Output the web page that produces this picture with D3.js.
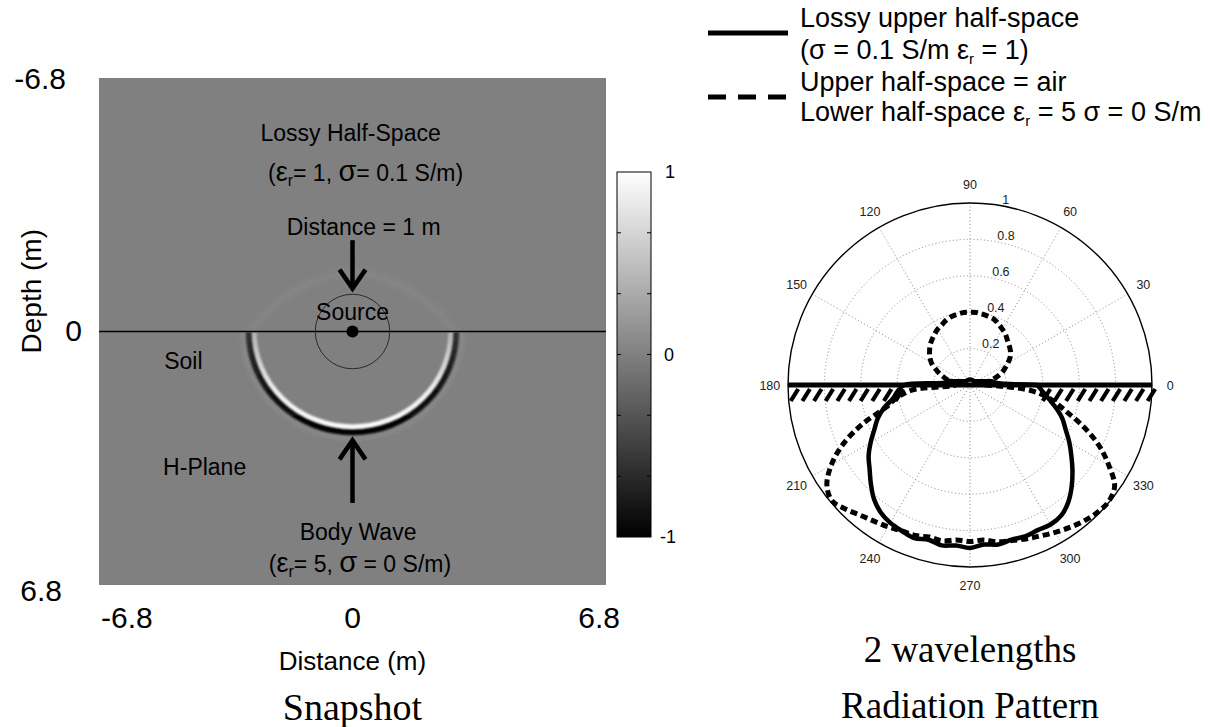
<!DOCTYPE html>
<html>
<head>
<meta charset="utf-8">
<script src="https://cdn.jsdelivr.net/npm/d3@7"></script>
<style>
  body { margin: 0; background: #ffffff; }
  svg { display: block; }
  text { font-family: "Liberation Sans", Arial, Helvetica, sans-serif; fill: #000; }
  .serif { font-family: "Liberation Serif", "Times New Roman", serif; }
</style>
</head>
<body>
<svg id="fig" width="1210" height="727"></svg>
<script>
// ---------------- data ----------------
// Snapshot panel (metres)
const snapExtent = [-6.8, 6.8];
const snapXTicks = [-6.8, 0, 6.8];
const snapXTickLabels = ["-6.8", "0", "6.8"];
const snapYTicks = [-6.8, 0, 6.8];
const snapYTickLabels = ["-6.8", "0", "6.8"];
const sourceDistance = 1;              // circle of radius 1 m round the source
const bodyWaveRadius = [2.78, 2.70];   // horizontal / vertical radius of the wavefront (m)

// Colour bar
const colorbarDomain = [-1, 1];
const colorbarTicks = [-1, -0.667, -0.333, 0, 0.333, 0.667, 1];
const colorbarLabelValues = [1, 0, -1];
const colorbarLabels = ["1", "0", "-1"];

// Radiation pattern (angle in degrees, normalised amplitude)
const polarAngles = [0, 5, 10, 15, 20, 25, 30, 35, 40, 45, 50, 55, 60, 65, 70, 75, 80, 85, 90,
  95, 100, 105, 110, 115, 120, 125, 130, 135, 140, 145, 150, 155, 160, 165, 170, 175, 180,
  185, 190, 195, 200, 205, 210, 215, 220, 225, 230, 235, 240, 245, 250, 255, 260, 265, 270,
  275, 280, 285, 290, 295, 300, 305, 310, 315, 320, 325, 330, 335, 340, 345, 350, 355, 360];

const lossyPattern = [0.37, 0.14, 0.12, 0.08, 0.06, 0.05, 0.04, 0.035, 0.03, 0.03, 0.03, 0.03, 0.03,
  0.03, 0.03, 0.03, 0.03, 0.03, 0.03, 0.03, 0.03, 0.03, 0.03, 0.03, 0.03, 0.03, 0.03, 0.03, 0.03,
  0.035, 0.04, 0.05, 0.06, 0.08, 0.12, 0.14, 0.36,
  0.40, 0.43, 0.49, 0.54, 0.58, 0.63, 0.68, 0.72, 0.77, 0.82, 0.855, 0.875, 0.885, 0.895, 0.88,
  0.895, 0.885, 0.895, 0.88, 0.89, 0.88, 0.885, 0.88, 0.885, 0.875, 0.84, 0.79, 0.735, 0.68,
  0.63, 0.58, 0.54, 0.49, 0.44, 0.40, 0.37];

const airPattern = [0.08, 0.09, 0.11, 0.14, 0.18, 0.21, 0.24, 0.27, 0.29, 0.305, 0.32, 0.34, 0.355,
  0.37, 0.385, 0.39, 0.395, 0.40, 0.40, 0.40, 0.395, 0.39, 0.38, 0.365, 0.355, 0.34, 0.325, 0.31,
  0.29, 0.27, 0.245, 0.21, 0.175, 0.14, 0.11, 0.09, 0.08,
  0.32, 0.41, 0.48, 0.63, 0.77, 0.88, 0.96, 0.99, 0.965, 0.935, 0.915, 0.90, 0.885, 0.88, 0.865,
  0.87, 0.855, 0.86, 0.855, 0.875, 0.885, 0.90, 0.915, 0.935, 0.955, 0.975, 0.99, 0.995, 0.97,
  0.88, 0.78, 0.66, 0.54, 0.45, 0.33, 0.08];

const polarRings = [0.2, 0.4, 0.6, 0.8, 1];
const polarRingLabels = ["0.2", "0.4", "0.6", "0.8", "1"];
const polarSpokes = [0, 30, 60, 90, 120, 150];
const polarAngleLabels = [0, 30, 60, 90, 120, 150, 180, 210, 240, 270, 300, 330];

// ---------------- drawing ----------------
const svg = d3.select("#fig");
const defs = svg.append("defs");

defs.append("filter").attr("id", "soft").attr("x", "-10%").attr("y", "-10%").attr("width", "120%").attr("height", "120%")
  .append("feGaussianBlur").attr("stdDeviation", 0.9);
defs.append("filter").attr("id", "haze").attr("x", "-20%").attr("y", "-20%").attr("width", "140%").attr("height", "140%")
  .append("feGaussianBlur").attr("stdDeviation", 2.5);

// ===== Snapshot =====
const xS = d3.scaleLinear().domain(snapExtent).range([99, 606]);
const yS = d3.scaleLinear().domain(snapExtent).range([78, 585]);
const grey = d3.scaleLinear().domain(colorbarDomain).range(["#000000", "#ffffff"]);
const snap = svg.append("g");

snap.append("rect")
  .attr("x", xS(-6.8)).attr("y", yS(-6.8))
  .attr("width", xS(6.8) - xS(-6.8)).attr("height", yS(6.8) - yS(-6.8))
  .attr("fill", grey(0));

// faint head-wave dome above the interface
const dome = [[-2.8, 0.05], [-2.3, -0.6], [-1.2, -1.35], [0, -1.7], [1.2, -1.35], [2.3, -0.6], [2.8, 0.05]];
snap.append("path")
  .attr("d", d3.line().x(d => xS(d[0])).y(d => yS(d[1])).curve(d3.curveBasis)(dome))
  .attr("fill", "none").attr("stroke", grey(0.1)).attr("stroke-width", 7)
  .attr("filter", "url(#haze)").attr("opacity", 0.5);

// body-wave front in the lower half-space
defs.append("clipPath").attr("id", "lowerHalf")
  .append("rect").attr("x", xS(-6.8)).attr("y", yS(0) + 1)
  .attr("width", xS(6.8) - xS(-6.8)).attr("height", yS(6.8) - yS(0) - 1);

const rx = xS(bodyWaveRadius[0]) - xS(0);
const ry = yS(bodyWaveRadius[1]) - yS(0);

const darkFade = defs.append("linearGradient").attr("id", "darkFade")
  .attr("gradientUnits", "userSpaceOnUse").attr("x1", 0).attr("x2", 0)
  .attr("y1", yS(0)).attr("y2", yS(0) + ry);
darkFade.append("stop").attr("offset", 0).attr("stop-color", grey(-0.6));
darkFade.append("stop").attr("offset", 0.55).attr("stop-color", grey(-0.85));
darkFade.append("stop").attr("offset", 1).attr("stop-color", grey(-1));

const lightFade = defs.append("linearGradient").attr("id", "lightFade")
  .attr("gradientUnits", "userSpaceOnUse").attr("x1", 0).attr("x2", 0)
  .attr("y1", yS(0)).attr("y2", yS(0) + ry);
lightFade.append("stop").attr("offset", 0).attr("stop-color", grey(0.4));
lightFade.append("stop").attr("offset", 0.6).attr("stop-color", grey(0.9));
lightFade.append("stop").attr("offset", 1).attr("stop-color", grey(1));

const wave = snap.append("g").attr("clip-path", "url(#lowerHalf)");
wave.append("ellipse").attr("cx", xS(0)).attr("cy", yS(0)).attr("rx", rx + 5.5).attr("ry", ry + 5.5)
  .attr("fill", "none").attr("stroke", grey(0.25)).attr("stroke-width", 4).attr("opacity", 0.45)
  .attr("filter", "url(#haze)");
wave.append("ellipse").attr("cx", xS(0)).attr("cy", yS(0)).attr("rx", rx).attr("ry", ry)
  .attr("fill", "none").attr("stroke", "url(#darkFade)").attr("stroke-width", 6)
  .attr("filter", "url(#soft)");
wave.append("ellipse").attr("cx", xS(0)).attr("cy", yS(0)).attr("rx", rx - 5.5).attr("ry", ry - 5.5)
  .attr("fill", "none").attr("stroke", "url(#lightFade)").attr("stroke-width", 4.5)
  .attr("filter", "url(#soft)");

// interface line, distance circle and source
snap.append("line")
  .attr("x1", xS(-6.8)).attr("x2", xS(6.8)).attr("y1", yS(0)).attr("y2", yS(0))
  .attr("stroke", "#000").attr("stroke-width", 1.6);
snap.append("ellipse")
  .attr("cx", xS(0)).attr("cy", yS(0))
  .attr("rx", xS(sourceDistance) - xS(0)).attr("ry", yS(sourceDistance) - yS(0))
  .attr("fill", "none").attr("stroke", "#2a2a2a").attr("stroke-width", 1);
snap.append("circle").attr("cx", xS(0)).attr("cy", yS(0)).attr("r", 6).attr("fill", "#000");

// arrows
function arrow(fromDepth, tipDepth) {
  const dir = Math.sign(tipDepth - fromDepth);
  const tipY = yS(tipDepth);
  snap.append("line").attr("x1", xS(0)).attr("x2", xS(0))
    .attr("y1", yS(fromDepth)).attr("y2", tipY - dir * 2)
    .attr("stroke", "#000").attr("stroke-width", 4.5);
  snap.append("path")
    .attr("d", `M${xS(0) - 13},${tipY - dir * 19} L${xS(0)},${tipY} L${xS(0) + 13},${tipY - dir * 19}`)
    .attr("fill", "none").attr("stroke", "#000").attr("stroke-width", 4.5)
    .attr("stroke-linejoin", "miter").attr("stroke-miterlimit", 6);
}
arrow(-2.45, -1.15);
arrow(4.6, 2.92);

// annotations
const ann = snap.append("g").attr("font-size", 23);
ann.append("text").attr("x", xS(-0.05)).attr("y", yS(-5.1)).attr("text-anchor", "middle").text("Lossy Half-Space");
const t1 = ann.append("text").attr("x", xS(0.35)).attr("y", yS(-4.05)).attr("text-anchor", "middle");
t1.append("tspan").text("(");
t1.append("tspan").attr("font-size", 27).text("ε");
t1.append("tspan").attr("font-size", 16).attr("dy", 5).text("r");
t1.append("tspan").attr("dy", -5).text("= 1,  ");
t1.append("tspan").attr("font-size", 29).text("σ");
t1.append("tspan").text("= 0.1 S/m)");
ann.append("text").attr("x", xS(0.3)).attr("y", yS(-2.6)).attr("text-anchor", "middle").text("Distance = 1 m");
ann.append("text").attr("x", xS(0)).attr("y", yS(-0.3)).attr("text-anchor", "middle").text("Source");
ann.append("text").attr("x", xS(-5.05)).attr("y", yS(1.0)).text("Soil");
ann.append("text").attr("x", xS(-5.08)).attr("y", yS(3.85)).text("H-Plane");
ann.append("text").attr("x", xS(0.15)).attr("y", yS(5.6)).attr("text-anchor", "middle").text("Body Wave");
const t2 = ann.append("text").attr("x", xS(0.2)).attr("y", yS(6.45)).attr("text-anchor", "middle");
t2.append("tspan").text("(");
t2.append("tspan").attr("font-size", 27).text("ε");
t2.append("tspan").attr("font-size", 16).attr("dy", 5).text("r");
t2.append("tspan").attr("dy", -5).text("= 5, ");
t2.append("tspan").attr("font-size", 29).text("σ");
t2.append("tspan").text(" = 0 S/m)");

// axes text
const tickFont = 30;
snap.selectAll(".xt").data(snapXTicks).join("text").attr("class", "xt")
  .attr("x", (d, i) => xS(d) + [2, 0, 14][i])
  .attr("y", yS(6.8) + 43)
  .attr("text-anchor", (d, i) => ["start", "middle", "end"][i])
  .attr("font-size", tickFont)
  .text((d, i) => snapXTickLabels[i]);
snap.selectAll(".yt").data(snapYTicks).join("text").attr("class", "yt")
  .attr("x", (d, i) => [66, 82, 62][i])
  .attr("y", (d, i) => yS(d) + [11, 9, 16][i])
  .attr("text-anchor", "end")
  .attr("font-size", tickFont)
  .text((d, i) => snapYTickLabels[i]);
snap.append("text").attr("x", xS(0)).attr("y", 670).attr("text-anchor", "middle")
  .attr("font-size", 26).text("Distance (m)");
snap.append("text").attr("transform", `translate(41,${yS(-1.0) - 3}) rotate(-90)`)
  .attr("text-anchor", "middle").attr("font-size", 28).text("Depth (m)");
snap.append("text").attr("class", "serif").attr("x", xS(0)).attr("y", 720)
  .attr("text-anchor", "middle").attr("font-size", 38).text("Snapshot");

// ===== Colour bar =====
const cbX = 617, cbW = 34;
const cbY = d3.scaleLinear().domain(colorbarDomain).range([537, 172]);
const cbGrad = defs.append("linearGradient").attr("id", "cbGrad")
  .attr("x1", 0).attr("x2", 0).attr("y1", 1).attr("y2", 0);
cbGrad.append("stop").attr("offset", 0).attr("stop-color", grey(-1));
cbGrad.append("stop").attr("offset", 1).attr("stop-color", grey(1));
const cb = svg.append("g");
cb.append("rect").attr("x", cbX).attr("y", cbY(1)).attr("width", cbW).attr("height", cbY(-1) - cbY(1))
  .attr("fill", "url(#cbGrad)").attr("stroke", "#000").attr("stroke-width", 1);
const innerTicks = colorbarTicks.filter(d => d > -1 && d < 1);
cb.selectAll(".cl").data(innerTicks).join("line").attr("class", "cl")
  .attr("x1", cbX).attr("x2", cbX + 4).attr("y1", d => cbY(d)).attr("y2", d => cbY(d))
  .attr("stroke", "#000").attr("stroke-width", 1);
cb.selectAll(".cr").data(innerTicks).join("line").attr("class", "cr")
  .attr("x1", cbX + cbW - 4).attr("x2", cbX + cbW).attr("y1", d => cbY(d)).attr("y2", d => cbY(d))
  .attr("stroke", "#000").attr("stroke-width", 1);
cb.selectAll(".cbt").data(colorbarLabelValues).join("text").attr("class", "cbt")
  .attr("x", (d, i) => [665, 664, 660][i])
  .attr("y", d => cbY(d) + 6)
  .attr("font-size", 18)
  .text((d, i) => colorbarLabels[i]);

// ===== Radiation pattern =====
const pc = { x: 970, y: 385 };
const rS = d3.scaleLinear().domain([0, 1]).range([0, 182]);
const rad = d => d * Math.PI / 180;
const polar = svg.append("g").attr("transform", `translate(${pc.x},${pc.y})`);

// grid
polar.selectAll(".ring").data(polarRings.slice(0, -1)).join("circle").attr("class", "ring")
  .attr("r", d => rS(d)).attr("fill", "none")
  .attr("stroke", "#7a7a7a").attr("stroke-width", 0.9).attr("stroke-dasharray", "1,2.5");
polar.selectAll(".spoke").data(polarSpokes).join("line").attr("class", "spoke")
  .attr("x1", d => rS(1) * Math.cos(rad(d))).attr("y1", d => -rS(1) * Math.sin(rad(d)))
  .attr("x2", d => -rS(1) * Math.cos(rad(d))).attr("y2", d => rS(1) * Math.sin(rad(d)))
  .attr("stroke", "#7a7a7a").attr("stroke-width", 0.9).attr("stroke-dasharray", "1,2.5");
polar.append("circle").attr("r", rS(1)).attr("fill", "none").attr("stroke", "#000").attr("stroke-width", 1.4);

// ring labels (just right of the 82 degree direction)
polar.selectAll(".rl").data(polarRings).join("text").attr("class", "rl")
  .attr("x", d => rS(d) * Math.cos(rad(82)) + 7)
  .attr("y", d => -rS(d) * Math.sin(rad(82)) - 1)
  .attr("font-size", 12.5).style("fill", "#222")
  .text((d, i) => polarRingLabels[i]);
// angle labels
polar.selectAll(".al").data(polarAngleLabels).join("text").attr("class", "al")
  .attr("x", d => 1.1 * rS(1) * Math.cos(rad(d)))
  .attr("y", d => -1.1 * rS(1) * Math.sin(rad(d)) + 4.5)
  .attr("text-anchor", "middle").attr("font-size", 12.5).style("fill", "#222")
  .text(d => d);

// patterns
const radial = d3.lineRadial()
  .angle(d => Math.PI / 2 - rad(d[0]))
  .radius(d => rS(d[1]))
  .curve(d3.curveCatmullRom.alpha(0.5));
const lossyPts = polarAngles.map((a, i) => [a, lossyPattern[i]]);
const airPts = polarAngles.map((a, i) => [a, airPattern[i]]);

polar.append("path").attr("d", radial(airPts))
  .attr("fill", "none").attr("stroke", "#000").attr("stroke-width", 5)
  .attr("stroke-dasharray", "7,4");
polar.append("path").attr("d", radial(lossyPts))
  .attr("fill", "none").attr("stroke", "#000").attr("stroke-width", 4.5)
  .attr("stroke-linejoin", "round");

// ground surface with hatching
polar.append("line").attr("x1", -rS(1)).attr("x2", rS(1)).attr("y1", 0).attr("y2", 0)
  .attr("stroke", "#000").attr("stroke-width", 5);
const gap = lossyPattern[polarAngles.indexOf(180)] + 0.01;
const hatchX = d3.range(-0.985, -gap, 0.064).concat(d3.range(gap + 0.03, 0.99, 0.064));
polar.selectAll(".hatch").data(hatchX).join("line").attr("class", "hatch")
  .attr("x1", d => rS(d)).attr("y1", 16)
  .attr("x2", d => rS(d) + 7.5).attr("y2", 4)
  .attr("stroke", "#000").attr("stroke-width", 4.2);

// legend
const lg = svg.append("g");
lg.append("line").attr("x1", 708).attr("x2", 788).attr("y1", 33).attr("y2", 33)
  .attr("stroke", "#000").attr("stroke-width", 5);
lg.append("line").attr("x1", 708).attr("x2", 788).attr("y1", 97).attr("y2", 97)
  .attr("stroke", "#000").attr("stroke-width", 5).attr("stroke-dasharray", "18,12");
const lgFont = 27;
lg.append("text").attr("x", 800).attr("y", 27).attr("font-size", lgFont).text("Lossy upper half-space");
const l2 = lg.append("text").attr("x", 800).attr("y", 59).attr("font-size", lgFont);
l2.append("tspan").text("(σ = 0.1 S/m ε");
l2.append("tspan").attr("font-size", 15).attr("dy", 5).text("r");
l2.append("tspan").attr("dy", -5).text(" = 1)");
lg.append("text").attr("x", 800).attr("y", 91).attr("font-size", lgFont).text("Upper half-space = air");
const l4 = lg.append("text").attr("x", 800).attr("y", 121).attr("font-size", lgFont);
l4.append("tspan").text("Lower half-space ε");
l4.append("tspan").attr("font-size", 15).attr("dy", 5).text("r");
l4.append("tspan").attr("dy", -5).text(" = 5 σ = 0 S/m");

// titles
svg.append("text").attr("class", "serif").attr("x", pc.x).attr("y", 662)
  .attr("text-anchor", "middle").attr("font-size", 37).text("2 wavelengths");
svg.append("text").attr("class", "serif").attr("x", pc.x).attr("y", 718)
  .attr("text-anchor", "middle").attr("font-size", 37).text("Radiation Pattern");
</script>
</body>
</html>
